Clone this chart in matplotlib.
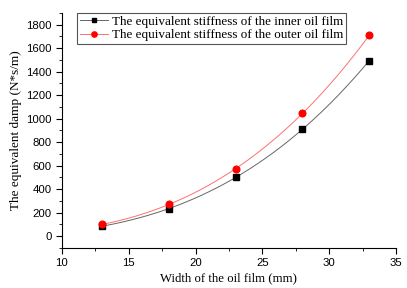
import numpy as np
import matplotlib
matplotlib.use('Agg')
import matplotlib.pyplot as plt
from matplotlib.ticker import MultipleLocator

# oil film width (mm)
width = [13, 18, 23, 28, 33]
# equivalent damp (N*s/m)
inner = [85, 235, 500, 910, 1495]
outer = [100, 270, 575, 1045, 1710]

labels = ['The equivalent stiffness of the inner oil film',
          'The equivalent stiffness of the outer oil film']

fig = plt.figure(figsize=(4.07, 2.88), dpi=100)
ax = fig.add_axes([0.152, 0.139, 0.821, 0.816])

# smooth curve through the points
xs = np.linspace(width[0], width[-1], 200)
for vals, color, marker, ms, lab in [(inner, 'black', 's', 4.0, labels[0]),
                                      (outer, 'red', 'o', 4.8, labels[1])]:
    coef = np.polyfit(width, vals, len(width) - 1)
    line_color = '#666666' if color == 'black' else '#ff7070'
    ax.plot(xs, np.polyval(coef, xs), color=line_color, lw=0.7)
    ax.plot(width, vals, linestyle='none', marker=marker, color=color, ms=ms)
    ax.plot([], [], color=line_color, lw=0.7, marker=marker, mfc=color,
            mec=color, ms=ms - 1, label=lab)

ax.set_xlim(10, 35)
ax.set_ylim(-100, 1900)
ax.xaxis.set_major_locator(MultipleLocator(5))
ax.xaxis.set_minor_locator(MultipleLocator(2.5))
ax.yaxis.set_major_locator(MultipleLocator(200))
ax.yaxis.set_minor_locator(MultipleLocator(100))
ax.set_yticks(range(0, 1801, 200))

for s in ['top', 'right']:
    ax.spines[s].set_visible(False)
ax.tick_params(which='major', direction='out', length=4, labelsize=8.2)
ax.tick_params(which='minor', direction='out', length=2)
for t in ax.get_xticklabels() + ax.get_yticklabels():
    t.set_family('Liberation Sans')

ax.set_xlabel('Width of the oil film (mm)', family='Liberation Serif', fontsize=9.2, labelpad=3)
ax.set_ylabel('The equivalent damp (N*s/m)', family='Liberation Serif', fontsize=9.5, labelpad=3)

leg = ax.legend(loc='upper left', bbox_to_anchor=(0.045, 1.0), fancybox=False,
                edgecolor='#555555', framealpha=1,
                prop={'family': 'Liberation Serif', 'size': 9.45},
                handlelength=2.2, handletextpad=0.3, borderpad=0.2,
                labelspacing=0.1, borderaxespad=0)
leg.get_frame().set_linewidth(0.8)

fig.savefig('out.png', dpi=100)
